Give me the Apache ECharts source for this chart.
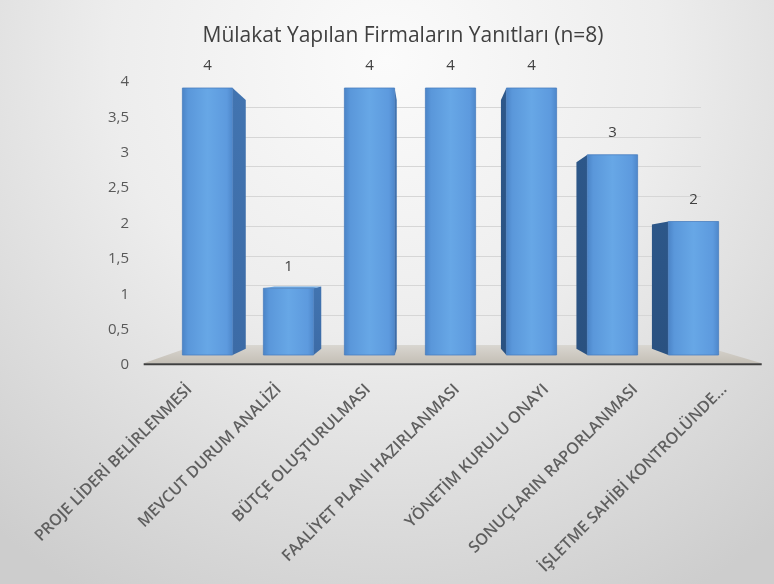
<!DOCTYPE html>
<html><head><meta charset="utf-8">
<script src="https://cdn.jsdelivr.net/npm/echarts@6/dist/echarts.min.js"></script>
<style>html,body{margin:0;padding:0;background:#fff;}#c{width:774px;height:584px;}</style>
</head><body><div id="c"></div>
<script>
const titleText = 'Mülakat Yapılan Firmaların Yanıtları (n=8)';
const categories = ['PROJE LİDERİ BELİRLENMESİ','MEVCUT DURUM ANALİZİ','BÜTÇE OLUŞTURULMASI','FAALİYET PLANI HAZIRLANMASI','YÖNETİM KURULU ONAYI','SONUÇLARIN RAPORLANMASI','İŞLETME SAHİBİ KONTROLÜNDE...'];
const values = [4, 1, 4, 4, 4, 3, 2];
const yMin = 0, yMax = 4, yStep = 0.5;

// perspective helpers (vanishing point as fraction of the bar grid)
const VX = 0.457, VY = 0.66, K_BACK = 0.068, K_FLOOR_FRONT = -0.09, K_FLOOR_BACK = 0.108;
function vp(cs) { return [cs.x + VX * cs.width, cs.y + VY * cs.height]; }
function toward(p, v, k) { return [p[0] + k * (v[0] - p[0]), p[1] + k * (v[1] - p[1])]; }

const chart = echarts.init(document.getElementById('c'), null, {renderer: 'canvas'});
const fontFam = '"Open Sans", "DejaVu Sans", sans-serif';

const frontGrad = new echarts.graphic.LinearGradient(0, 0, 1, 0, [
  {offset: 0, color: '#4a83c6'}, {offset: 0.12, color: '#5a97da'},
  {offset: 0.5, color: '#67a7e6'}, {offset: 0.88, color: '#5d9ade'}, {offset: 1, color: '#4d86c9'}
]);

function renderBar(params, api) {
  const idx = api.value(0), val = api.value(1);
  const cs = params.coordSys;
  const V = vp(cs);
  const top = api.coord([idx, val]);
  const base = api.coord([idx, 0]);
  const bw = api.size([1, 0])[0] * 0.62;
  const x0 = top[0] - bw / 2, x1 = top[0] + bw / 2, yT = top[1], yB = base[1];
  const children = [];
  if (x1 < V[0]) {
    const a = toward([x1, yT], V, K_BACK), b = toward([x1, yB], V, K_BACK);
    children.push({type: 'polygon', shape: {points: [[x1, yT], a, b, [x1, yB]]},
      style: {fill: new echarts.graphic.LinearGradient(0, 0, 0, 1, [{offset: 0, color: '#4274b0'}, {offset: 1, color: '#3c6ba6'}])}});
  } else if (x0 > V[0]) {
    const a = toward([x0, yT], V, K_BACK), b = toward([x0, yB], V, K_BACK);
    children.push({type: 'polygon', shape: {points: [[x0, yT], a, b, [x0, yB]]},
      style: {fill: new echarts.graphic.LinearGradient(0, 0, 0, 1, [{offset: 0, color: '#2d5789'}, {offset: 1, color: '#2a5180'}])}});
  }
  if (yT > V[1]) {
    const a = toward([x0, yT], V, K_BACK), b = toward([x1, yT], V, K_BACK);
    children.push({type: 'polygon', shape: {points: [[x0, yT], [x1, yT], b, a]}, style: {fill: '#6fa8e0'}});
  }
  children.push({type: 'rect', shape: {x: x0, y: yT, width: bw, height: yB - yT},
    style: {fill: frontGrad, stroke: '#4a7fbf', lineWidth: 0.8}});
  children.push({type: 'text', x: top[0], y: yT - 22,
    style: {text: String(val), fill: '#404040', font: '15px ' + fontFam, align: 'center', verticalAlign: 'middle'}});
  return {type: 'group', children: children};
}

function renderFloor(params, api) {
  const cs = params.coordSys;
  const V = vp(cs);
  const fl = [cs.x, cs.y + cs.height], fr = [cs.x + cs.width, cs.y + cs.height];
  const pFL = toward(fl, V, K_FLOOR_FRONT), pFR = toward(fr, V, K_FLOOR_FRONT);
  const pBL = toward(fl, V, K_FLOOR_BACK), pBR = toward(fr, V, K_FLOOR_BACK);
  return {type: 'group', children: [
    {type: 'polygon', shape: {points: [pBL, pBR, pFR, pFL]},
     style: {fill: new echarts.graphic.LinearGradient(0, 0, 0, 1, [{offset: 0, color: '#d9d6d0'}, {offset: 1, color: '#c4bfb6'}])}},
    {type: 'line', shape: {x1: pFL[0], y1: pFL[1] + 1, x2: pFR[0], y2: pFR[1] + 1},
     style: {stroke: '#3f3f3f', lineWidth: 2}}
  ]};
}

const option = {
  backgroundColor: {type: 'radial', x: 0.5, y: 0.1, r: 1.05, colorStops: [
    {offset: 0, color: '#fbfbfb'}, {offset: 0.45, color: '#ededed'}, {offset: 1, color: '#cdcdcd'}]},
  animation: false,
  title: {text: titleText, left: 398, top: 21, textAlign: 'center',
    textStyle: {fontFamily: fontFam, fontSize: 21, fontWeight: 'normal', color: '#404040'}},
  grid: [
    {left: 167, right: 40, top: 88, bottom: 229},   // bars (front plane)
    {left: 135, right: 40, top: 82, bottom: 219},   // value axis labels
    {left: 145, right: 5, top: 88, bottom: 220},    // category labels (floor front edge)
    {left: 195, right: 73, top: 107, bottom: 239}   // back wall gridlines
  ],
  xAxis: [
    {type: 'category', data: categories, gridIndex: 0, show: false},
    {type: 'category', data: categories, gridIndex: 1, show: false},
    {type: 'category', data: categories, gridIndex: 2,
      axisLine: {show: false}, axisTick: {show: false},
      axisLabel: {interval: 0, rotate: 45, margin: 23, color: '#5f5f5f', fontFamily: fontFam, fontSize: 16, fontWeight: 600}},
    {type: 'category', data: categories, gridIndex: 3, show: false}
  ],
  yAxis: [
    {type: 'value', gridIndex: 0, min: yMin, max: yMax, interval: yStep, show: false},
    {type: 'value', gridIndex: 1, min: yMin, max: yMax, interval: yStep,
      axisLine: {show: false}, axisTick: {show: false}, splitLine: {show: false},
      axisLabel: {margin: 6, color: '#595959', fontFamily: fontFam, fontSize: 15,
        formatter: v => String(v).replace('.', ',')}},
    {type: 'value', gridIndex: 2, min: yMin, max: yMax, show: false},
    {type: 'value', gridIndex: 3, min: yMin, max: yMax, interval: yStep,
      axisLine: {show: false}, axisTick: {show: false}, axisLabel: {show: false},
      splitLine: {show: true, lineStyle: {color: '#d6d6d6', width: 1}}}
  ],
  series: [
    {type: 'custom', name: 'floor', xAxisIndex: 0, yAxisIndex: 0, z: 1, silent: true,
      renderItem: renderFloor, data: [[0, 0]]},
    {type: 'custom', name: 'Yanıt', xAxisIndex: 0, yAxisIndex: 0, z: 3,
      renderItem: renderBar, data: values.map((v, i) => [i, v])}
  ]
};
chart.setOption(option);
</script></body></html>
